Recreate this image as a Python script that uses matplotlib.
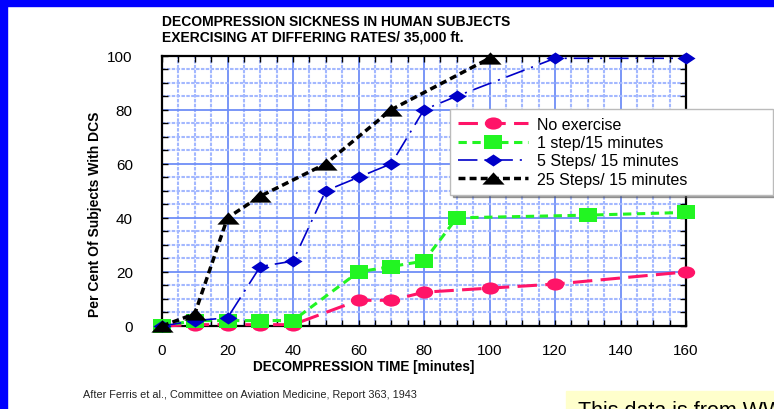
import matplotlib
matplotlib.use("Agg")
import matplotlib.pyplot as plt
from matplotlib.path import Path
from matplotlib.transforms import Affine2D
from matplotlib.patches import Rectangle
from matplotlib.ticker import MultipleLocator

# data
time_none = [0, 10, 20, 30, 40, 60, 70, 80, 100, 120, 160]
pct_none = [0, 0.5, 0.5, 0.5, 0.5, 9.5, 9.5, 12.5, 14, 15.5, 20]

time_1step = [0, 10, 20, 30, 40, 60, 70, 80, 90, 130, 160]
pct_1step = [0, 2, 2, 2, 2, 20, 22, 24, 40, 41, 42]

time_5steps = [0, 10, 20, 30, 40, 50, 60, 70, 80, 90, 120, 160]
pct_5steps = [0, 2, 3, 22, 24, 50, 55, 60, 80, 85, 99, 99]

time_25steps = [0, 10, 20, 30, 50, 70, 100]
pct_25steps = [0, 4.5, 40, 48, 60, 80, 99]

labels = ["No exercise", "1 step/15 minutes", "5 Steps/ 15 minutes", "25 Steps/ 15 minutes"]

plt.rcParams["font.family"] = ["Liberation Sans", "DejaVu Sans"]
plt.rcParams["lines.scale_dashes"] = False

W, H = 774, 410
fig = plt.figure(figsize=(W / 100, H / 100), dpi=100)
fig.patch.set_facecolor("white")

# blue frame on left and top, yellow note box bottom right
fig.patches.append(Rectangle((0, 0), 7 / W, 1, transform=fig.transFigure, color="#0000FF", zorder=0))
fig.patches.append(Rectangle((0, 1 - 7 / H), 1, 7 / H, transform=fig.transFigure, color="#0000FF", zorder=0))
fig.patches.append(Rectangle((566 / W, 0), 1, 18 / H, transform=fig.transFigure, color="#FFFFCC", zorder=0))

ax = fig.add_axes([162 / W, 1 - 327 / H, (686 - 162) / W, (327 - 56.6) / H])

# stretched markers as in the original
ellipse = Path.unit_circle().transformed(Affine2D().scale(1.0, 0.7))
rect = Path([(-1, -0.76), (1, -0.76), (1, 0.76), (-1, 0.76), (-1, -0.76)],
            [Path.MOVETO, Path.LINETO, Path.LINETO, Path.LINETO, Path.CLOSEPOLY])
diamond = Path([(0, -0.67), (1, 0), (0, 0.67), (-1, 0), (0, -0.67)],
               [Path.MOVETO, Path.LINETO, Path.LINETO, Path.LINETO, Path.CLOSEPOLY])
tri = Path([(-1, -0.55), (1, -0.55), (0, 0.55), (-1, -0.55)],
           [Path.MOVETO, Path.LINETO, Path.LINETO, Path.CLOSEPOLY])

pink = "#FF1468"
green = "#22F522"
blue = "#0000C8"

ax.plot(time_none, pct_none, color=pink, lw=2.2, dashes=(14, 6),
        marker=ellipse, ms=12.5, mew=0, clip_on=False, label=labels[0], zorder=3)
ax.plot(time_1step, pct_1step, color=green, lw=2.2, dashes=(6, 4),
        marker=rect, ms=12.5, mew=0, clip_on=False, label=labels[1], zorder=4)
ax.plot(time_5steps, pct_5steps, color=blue, lw=1.2, dashes=(14, 5, 1.5, 5),
        marker=diamond, ms=13, mew=0, clip_on=False, label=labels[2], zorder=5)
ax.plot(time_25steps, pct_25steps, color="black", lw=2.5, dashes=(5, 3),
        marker=tri, ms=16, mew=0, clip_on=False, label=labels[3], zorder=6)

ax.set_xlim(0, 160)
ax.set_ylim(0, 100)
ax.xaxis.set_major_locator(MultipleLocator(20))
ax.xaxis.set_minor_locator(MultipleLocator(5))
ax.yaxis.set_major_locator(MultipleLocator(20))
ax.yaxis.set_minor_locator(MultipleLocator(5))

ax.grid(which="major", color="#6E8EF7", lw=1.3, ls="-", zorder=1)
ax.grid(which="minor", color="#A3B8FF", lw=1.5, dashes=(2.5, 1), zorder=1)
ax.set_axisbelow(True)

ax.tick_params(which="both", direction="in", top=True, right=True, length=4, width=1, color="black")
ax.tick_params(axis="x", which="major", labelsize=11, pad=12)
ax.tick_params(axis="y", which="major", labelsize=11, pad=21)
for s in ax.spines.values():
    s.set_linewidth(1.6)
    s.set_color("black")

fig.text(162 / W, 1 - 22 / H, "DECOMPRESSION SICKNESS IN HUMAN SUBJECTS",
         fontsize=10, fontweight="bold", va="center", ha="left")
fig.text(162 / W, 1 - 38 / H, "EXERCISING AT DIFFERING RATES/ 35,000 ft.",
         fontsize=10, fontweight="bold", va="center", ha="left")
fig.text(364 / W, 1 - 367 / H, "DECOMPRESSION TIME [minutes]",
         fontsize=9.85, fontweight="bold", va="center", ha="center")
fig.text(95 / W, 1 - 214 / H, "Per Cent Of Subjects With DCS",
         fontsize=10, fontweight="bold", va="center", ha="center", rotation=90)
fig.text(83 / W, 1 - 395 / H, "After Ferris et al., Committee on Aviation Medicine, Report 363, 1943",
         fontsize=7.8, va="center", ha="left", color="#222222")
fig.text(578 / W, 1 - 401 / H, "This data is from WW",
         fontsize=15.5, va="top", ha="left")

leg = ax.legend(loc="upper left", bbox_to_anchor=(450 / W, 1 - 194 / H, 323 / W, 84 / H),
                bbox_transform=fig.transFigure, mode="expand", borderaxespad=0, fontsize=11.5,
                handlelength=4.4, handletextpad=0.55, borderpad=0.5,
                labelspacing=0.2, numpoints=1, fancybox=False, shadow=True,
                framealpha=1)
leg.get_frame().set_edgecolor("#BBBBBB")
leg.get_frame().set_linewidth(1)

fig.savefig("out.png", dpi=100)
